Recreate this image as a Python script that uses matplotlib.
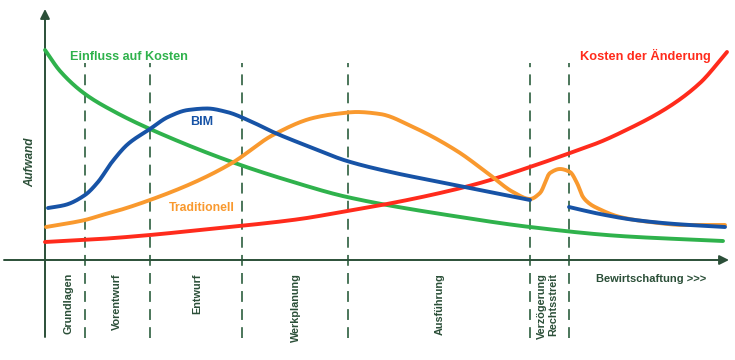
import numpy as np
import matplotlib
matplotlib.use("Agg")
import matplotlib.pyplot as plt

plt.rcParams['font.family'] = ['Liberation Sans', 'DejaVu Sans']

# ---- data (x: progress, y: effort) ----
phase_bounds = [40, 105, 197, 303, 485, 524]
phase_labels = ["Grundlagen", "Vorentwurf", "Entwurf", "Werkplanung", "Ausführung",
                "Verzögerung\nRechtsstreit"]
phase_label_x = [23, 72, 152, 251, 395, 503]

einfluss_x = [0, 15, 40, 70, 105, 187, 245, 302, 415, 485, 575, 678]
einfluss_y = [210, 189, 166, 148, 131, 98, 79, 63, 43, 33, 24, 19]

bim1_x = [3, 20, 40, 53, 67, 83, 105, 123, 143, 162, 182, 205, 228, 265, 302, 350, 395, 440, 485]
bim1_y = [52, 55, 65, 78, 98, 116, 131, 143, 150, 151.5, 148, 139, 128, 113, 99, 87, 78, 69, 60]
bim2_x = [524, 555, 590, 630, 680]
bim2_y = [53, 46, 40, 36, 33]

trad_x = [1, 40, 57, 75, 105, 150, 187, 228, 268, 290, 312, 335, 368, 412, 445, 468, 485,
          495, 505, 515, 525, 532, 538, 545, 552, 575, 605, 640, 680]
trad_y = [33, 40, 45, 50, 60, 78, 97, 125, 142, 146, 148, 146, 133, 109, 85, 68, 61,
          67, 87, 91, 88, 77, 63, 56, 52, 43, 38, 35, 35]

kosten_x = [0, 55, 105, 155, 185, 255, 302, 342, 395, 435, 485, 525, 555, 575, 622, 655, 682]
kosten_y = [18, 21, 25, 30, 33, 41, 49, 56, 67, 77, 93, 107, 118, 127, 152, 177, 208]

GREEN = "#2fb24c"
BLUE = "#1753a6"
ORANGE = "#f9992e"
RED = "#ff2b1c"
DARK = "#2b4f38"
DASH = "#3d6b4d"


def smooth(xs, ys, n=500):
    """Monotone cubic (PCHIP) through the read points, used only for drawing."""
    x = np.asarray(xs, float)
    y = np.asarray(ys, float)
    h = np.diff(x)
    d = np.diff(y) / h
    m = np.zeros_like(y)
    for i in range(1, len(x) - 1):
        if d[i - 1] * d[i] > 0:
            w1 = 2 * h[i] + h[i - 1]
            w2 = h[i] + 2 * h[i - 1]
            m[i] = (w1 + w2) / (w1 / d[i - 1] + w2 / d[i])
        else:
            m[i] = 0.0
    m[0] = d[0]
    m[-1] = d[-1]
    xx = np.linspace(x[0], x[-1], n)
    k = np.clip(np.searchsorted(x, xx) - 1, 0, len(x) - 2)
    t = (xx - x[k]) / h[k]
    h00 = 2 * t ** 3 - 3 * t ** 2 + 1
    h10 = t ** 3 - 2 * t ** 2 + t
    h01 = -2 * t ** 3 + 3 * t ** 2
    h11 = t ** 3 - t ** 2
    yy = h00 * y[k] + h10 * h[k] * m[k] + h01 * y[k + 1] + h11 * h[k] * m[k + 1]
    return xx, yy


fig = plt.figure(figsize=(7.35, 3.6), dpi=100)
ax = fig.add_axes([0, 0, 1, 1])
ax.set_xlim(-45, 690)
ax.set_ylim(-100, 260)
ax.axis("off")

# phase dashed lines
for xb in phase_bounds:
    ax.plot([xb, xb], [-78, 197], color=DASH, lw=1.3, dashes=(6, 4), zorder=1)

# axes with arrows
ax.annotate("", xy=(0, 251), xytext=(0, -77),
            arrowprops=dict(arrowstyle="-|>", color=DARK, lw=1.4, mutation_scale=14,
                            shrinkA=0, shrinkB=0), zorder=2)
ax.annotate("", xy=(684, 0), xytext=(-41, 0),
            arrowprops=dict(arrowstyle="-|>", color=DARK, lw=1.4, mutation_scale=14,
                            shrinkA=0, shrinkB=0), zorder=2)

lw = 2.8
for xs, ys, c in [(einfluss_x, einfluss_y, GREEN), (kosten_x, kosten_y, RED),
                  (trad_x, trad_y, ORANGE), (bim1_x, bim1_y, BLUE), (bim2_x, bim2_y, BLUE)]:
    sx, sy = smooth(xs, ys)
    ax.plot(sx, sy, color=c, lw=lw, solid_capstyle="round", zorder=3)

# curve labels
ax.text(25, 203, "Einfluss auf Kosten", color=GREEN, fontsize=9.1, fontweight="bold",
        ha="left", va="center")
ax.text(535, 204, "Kosten der Änderung", color=RED, fontsize=9.2, fontweight="bold",
        ha="left", va="center")
ax.text(157, 138, "BIM", color=BLUE, fontsize=9, fontweight="bold", ha="center", va="center")
ax.text(157, 52, "Traditionell", color=ORANGE, fontsize=8.8, fontweight="bold",
        ha="center", va="center")
ax.text(-15, 98, "Aufwand", color=DARK, fontsize=8.5, fontweight="bold", style="italic",
        rotation=90, ha="center", va="center")

for lx, lab in zip(phase_label_x, phase_labels):
    ax.text(lx, -13, lab, color=DARK, fontsize=7.8, fontweight="bold", rotation=90,
            ha="center", va="top", linespacing=1.15, multialignment="right")

ax.text(551, -19, "Bewirtschaftung >>>", color=DARK, fontsize=8.0, fontweight="bold",
        ha="left", va="center")

fig.savefig("out.png", dpi=100)
